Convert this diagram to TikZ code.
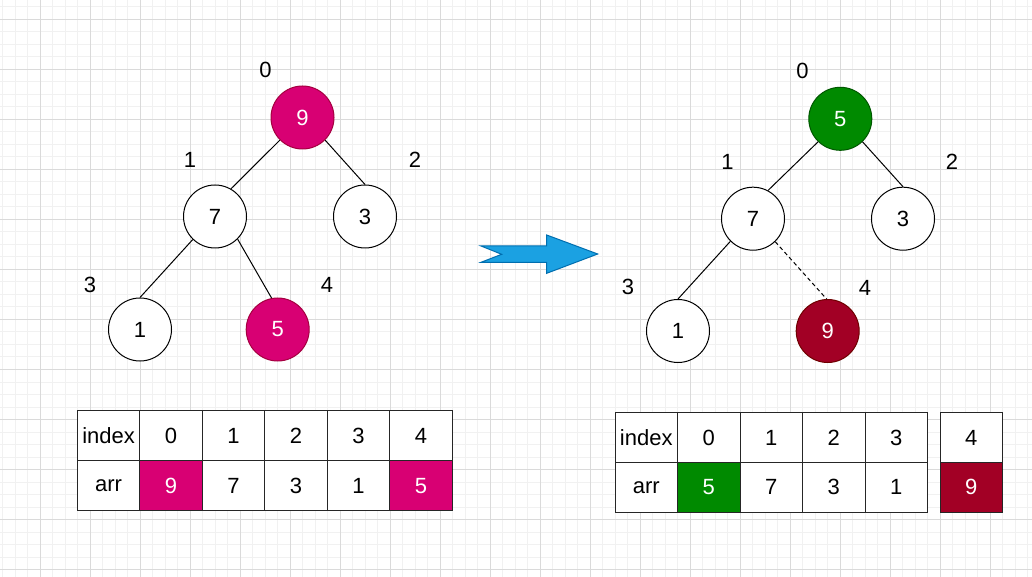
\documentclass[tikz,border=0pt]{standalone}
\usepackage{fontspec}
\setmainfont{Liberation Sans}
\definecolor{magf}{HTML}{D80073}
\definecolor{mags}{HTML}{A50040}
\definecolor{grnf}{HTML}{008A00}
\definecolor{grns}{HTML}{005700}
\definecolor{redf}{HTML}{A20025}
\definecolor{reds}{HTML}{6F0000}
\definecolor{bluef}{HTML}{1BA1E2}
\definecolor{blues}{HTML}{006EAF}
\definecolor{gridmaj}{HTML}{DADADA}
\definecolor{gridmin}{HTML}{F1F1F1}
\begin{document}
\begin{tikzpicture}[x=0.75pt,y=-0.75pt,
  every node/.style={font=\fontsize{16.5}{19}\selectfont},
  tn/.style={circle,draw=black,line width=0.75pt,fill=white,minimum size=47.25pt,inner sep=0pt},
  magn/.style={tn,fill=magf,draw=mags,text=white},
  grnn/.style={tn,fill=grnf,draw=grns,text=white},
  redn/.style={tn,fill=redf,draw=reds,text=white},
  lbl/.style={inner sep=0pt},
  treeedge/.style={line width=0.75pt,draw=black},
  dashedge/.style={line width=0.75pt,draw=black,dashed,dash pattern=on 3pt off 2.2pt},
  cell/.style={draw=black!85,line width=0.75pt,fill=white,minimum width=46.875pt,minimum height=37.5pt,inner sep=0pt},
  magcell/.style={cell,fill=magf,text=white},
  grncell/.style={cell,fill=grnf,text=white},
  redcell/.style={cell,fill=redf,text=white},
  minline/.style={draw=gridmin,line width=0.75pt},
  majline/.style={draw=gridmaj,line width=0.75pt}
]
\useasboundingbox (0,0) rectangle (1032,577);
\fill[white] (0,0) rectangle (1032,577);
% grid
\foreach \i in {0,...,82} { \draw[minline] ({2.8+12.5*\i},0) -- ++(0,577); }
\foreach \i in {0,...,45} { \draw[minline] (0,{7+12.5*\i}) -- ++(1032,0); }
\foreach \i in {0,...,19} { \draw[majline] ({40.3+50*\i},0) -- ++(0,577); }
\foreach \i in {0,...,11} { \draw[majline] (0,{19.5+50*\i}) -- ++(1032,0); }

% left tree
\node[magn] (a9) at (302.5,117.5) {9};
\node[tn] (a7) at (215,216.5) {7};
\node[tn] (a3) at (365,216.5) {3};
\node[tn] (a1) at (140,329.5) {1};
\node[magn] (a5) at (277.7,329.5) {5};
\draw[treeedge] (a9.225) -- (a7.60);
\draw[treeedge] (a9.315) -- (a3.90);
\draw[treeedge] (a7.226) -- (a1.90);
\draw[treeedge] (a7.315) -- (a5.101);
\node[lbl] (al0) at (265.5,69.5) {0};
\node[lbl] (al1) at (190,160) {1};
\node[lbl] (al2) at (415,160) {2};
\node[lbl] (al3) at (90,285) {3};
\node[lbl] (al4) at (327,284.5) {4};

% right tree
\node[grnn] (b5) at (840.3,118.8) {5};
\node[tn] (b7) at (753,218.7) {7};
\node[tn] (b3) at (903,218.7) {3};
\node[tn] (b1) at (678,331) {1};
\node[redn] (b9) at (827.7,331) {9};
\draw[treeedge] (b5.226) -- (b7.62);
\draw[treeedge] (b5.314) -- (b3.90);
\draw[treeedge] (b7.225) -- (b1.90);
\draw[dashedge] (b7.314) -- (b9.92);
\node[lbl] (bl0) at (802.5,71) {0};
\node[lbl] (bl1) at (727.5,161.5) {1};
\node[lbl] (bl2) at (952,161.5) {2};
\node[lbl] (bl3) at (628,287) {3};
\node[lbl] (bl4) at (865,288) {4};

% arrow
\draw[fill=bluef,draw=blues,line width=0.75pt,line join=miter]
  (481,246) -- (546.7,246) -- (546.7,235) -- (597.7,254) -- (546.7,273.3)
  -- (546.7,262.3) -- (481,262.3) -- (501.7,254.3) -- cycle;

% left table
\node[cell] (t00) at (108.55,435.7) {index};
\node[cell] (t01) at (171.05,435.7) {0};
\node[cell] (t02) at (233.55,435.7) {1};
\node[cell] (t03) at (296.05,435.7) {2};
\node[cell] (t04) at (358.55,435.7) {3};
\node[cell] (t05) at (421.05,435.7) {4};
\node[cell] (t10) at (108.55,485.7) {arr};
\node[magcell] (t11) at (171.05,485.7) {9};
\node[cell] (t12) at (233.55,485.7) {7};
\node[cell] (t13) at (296.05,485.7) {3};
\node[cell] (t14) at (358.55,485.7) {1};
\node[magcell] (t15) at (421.05,485.7) {5};

% right table
\node[cell] (u00) at (646.25,437.6) {index};
\node[cell] (u01) at (708.75,437.6) {0};
\node[cell] (u02) at (771.25,437.6) {1};
\node[cell] (u03) at (833.75,437.6) {2};
\node[cell] (u04) at (896.25,437.6) {3};
\node[cell] (u10) at (646.25,487.4) {arr};
\node[grncell] (u11) at (708.75,487.4) {5};
\node[cell] (u12) at (771.25,487.4) {7};
\node[cell] (u13) at (833.75,487.4) {3};
\node[cell] (u14) at (896.25,487.4) {1};
\node[cell] (v0) at (971.25,437.6) {4};
\node[redcell] (v1) at (971.25,487.4) {9};
\end{tikzpicture}
\end{document}
